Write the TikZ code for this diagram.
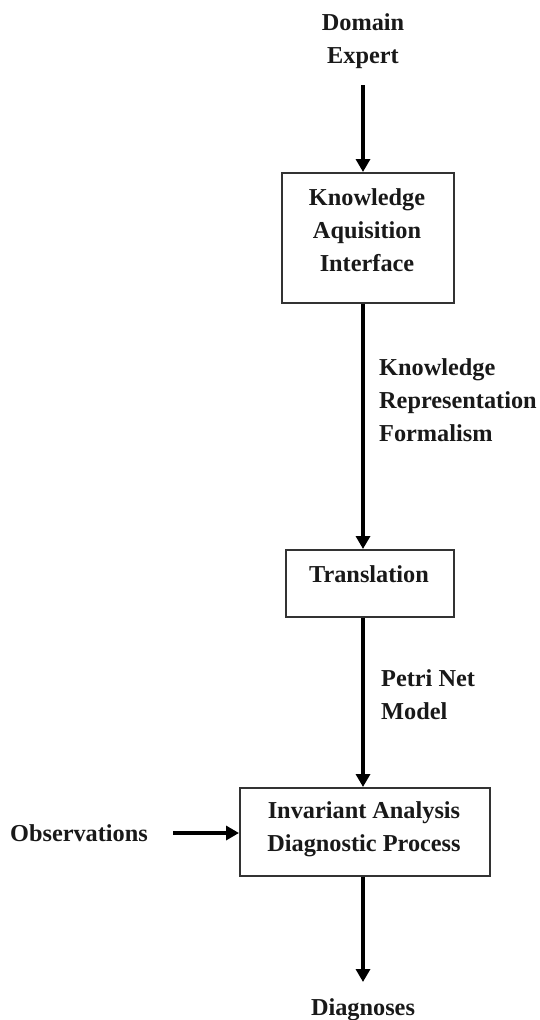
\documentclass[tikz,border=0pt]{standalone}
\usepackage{fontspec}
\setmainfont{Liberation Serif}
\usetikzlibrary{arrows.meta}
\begin{document}
\begin{tikzpicture}[x=1pt,y=-1pt,
  lbl/.style={font=\fontsize{24.3}{33}\selectfont\bfseries, inner sep=0pt, text=black!90},
  box/.style={draw=black!80, line width=1.6pt, inner sep=0pt},
  flow/.style={line width=3.6pt, -{Triangle[length=13pt,width=14pt]}}
]
\useasboundingbox[fill=white] (0,0) rectangle (539,1020);

% boxes
\node[box, anchor=north west, minimum width=172pt, minimum height=130pt] (kai) at (281,172) {};
\node[box, anchor=north west, minimum width=168pt, minimum height=67pt] (tr) at (285,549) {};
\node[box, anchor=north west, minimum width=250pt, minimum height=88pt] (ia) at (239,787) {};

% texts
\node[lbl, align=center] (de) at (363,41) {Domain\\Expert};
\node[lbl, align=center] (kait) at (367,230) {Knowledge\\Aquisition\\Interface};
\node[lbl, align=left, anchor=west] (krf) at (379,400) {Knowledge\\Representation\\Formalism};
\node[lbl] (trt) at (369,574) {Translation};
\node[lbl, align=left, anchor=west] (pn) at (381,695) {Petri Net\\Model};
\node[lbl, align=center] (iat) at (364,829) {Invariant Analysis\\Diagnostic Process};
\node[lbl] (obs) at (79,833) {Observations};
\node[lbl] (dg) at (363,1010) {Diagnoses};

% connectors
\coordinate (c1) at (363,85);
\coordinate (c2) at (363,982);
\coordinate (c3) at (173,833);
\draw[flow] (c1) -- (c1 |- kai.north);
\draw[flow] (c1 |- kai.south) -- (c1 |- tr.north);
\draw[flow] (c1 |- tr.south) -- (c1 |- ia.north);
\draw[flow] (c1 |- ia.south) -- (c2);
\draw[flow] (c3) -- (c3 -| ia.west);
\end{tikzpicture}
\end{document}
